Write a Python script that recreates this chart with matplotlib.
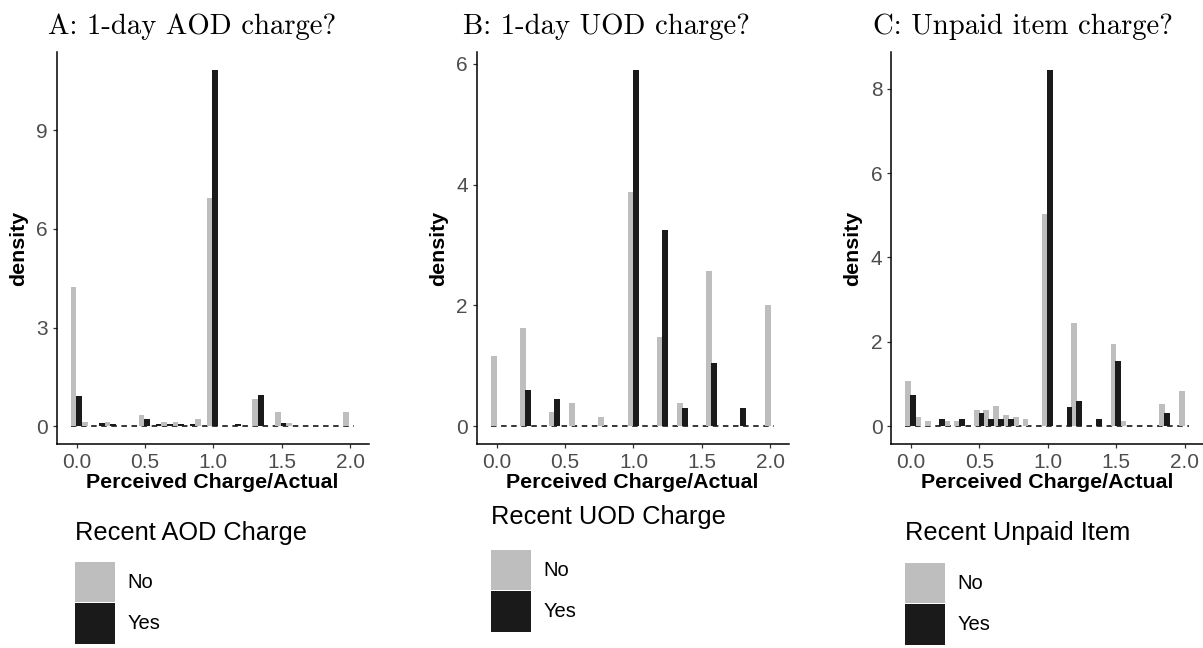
import numpy as np
import matplotlib
matplotlib.use('Agg')
import matplotlib.pyplot as plt
from matplotlib.patches import Patch

plt.rcParams['font.family'] = ['Liberation Sans', 'DejaVu Sans']

# ---- data (density per bin) ----
x_lo, x_hi = -0.043, 2.03          # outer edges of the binned range

aod_no  = [4.23, 0.12, 0, 0.12, 0, 0, 0.33, 0, 0.12, 0.12, 0, 0.22, 6.93,
           0, 0, 0, 0.84, 0, 0.42, 0.1, 0, 0, 0, 0, 0.42]
aod_yes = [0.92, 0, 0.1, 0.07, 0, 0, 0.22, 0.07, 0.07, 0.07, 0.07, 0, 10.84,
           0, 0.07, 0, 0.95, 0, 0.1, 0, 0, 0, 0, 0, 0]

uod_no  = [1.16, 0, 0, 1.63, 0, 0, 0.24, 0, 0.39, 0, 0, 0.16, 0, 0, 3.87,
           0, 0, 1.47, 0, 0.39, 0, 0, 2.57, 0, 0, 0, 0, 0, 2.01]
uod_yes = [0, 0, 0, 0.6, 0, 0, 0.45, 0, 0, 0, 0, 0, 0, 0, 5.9,
           0, 0, 3.25, 0, 0.30, 0, 0, 1.04, 0, 0, 0.30, 0, 0, 0]

unpaid_no  = [1.06, 0.21, 0.12, 0, 0.12, 0.12, 0, 0.39, 0.39, 0.47, 0.26, 0.21, 0.17, 0, 5.02,
              0, 0, 2.45, 0, 0, 0, 1.94, 0.12, 0, 0, 0, 0.53, 0, 0.84]
unpaid_yes = [0.73, 0, 0, 0.18, 0, 0.18, 0, 0.31, 0.18, 0.18, 0.18, 0, 0, 0, 8.45,
              0, 0.45, 0.59, 0, 0.18, 0, 1.55, 0, 0, 0, 0, 0.31, 0, 0]

titles = ['A: 1-day AOD charge?', 'B: 1-day UOD charge?', 'C: Unpaid item charge?']
legend_titles = ['Recent AOD Charge', 'Recent UOD Charge', 'Recent Unpaid Item']
group_labels = ['No', 'Yes']
x_ticks = [0.0, 0.5, 1.0, 1.5, 2.0]
y_ticks = [[0, 3, 6, 9], [0, 2, 4, 6], [0, 2, 4, 6, 8]]

panels = [(aod_no, aod_yes), (uod_no, uod_yes), (unpaid_no, unpaid_yes)]
bar_frac = [0.5, 0.62, 0.6]         # drawn bar width, as a share of the bin

col_no, col_yes = '#BEBEBE', '#1A1A1A'

W, H = 1203, 648
fig = plt.figure(figsize=(W / 100, H / 100), dpi=100)

lefts = [56.5, 476.6, 891]          # px
title_x = [48, 463, 873]
leg_x = [75, 491, 905]
leg_title_top = [521, 505, 521]     # px
leg_key_top = [562, 550, 563]

for i, (no, yes) in enumerate(panels):
    ax = fig.add_axes([lefts[i] / W, (H - 444) / H, 312 / W, 392 / H])
    n = len(no)
    bw = (x_hi - x_lo) / n
    left = x_lo + bw * np.arange(n)

    ax.hlines(0, x_lo, x_hi, colors='black', lw=1.1, linestyles=(0, (3.6, 3.0)), zorder=1)
    ax.bar(left, no, width=bw * bar_frac[i], align='edge', color=col_no, zorder=2)
    ax.bar(left + bw / 2, yes, width=bw * bar_frac[i], align='edge', color=col_yes, zorder=3)

    top = max(max(no), max(yes))
    span = x_hi - x_lo
    ax.set_xlim(x_lo - 0.05 * span, x_hi + 0.05 * span)
    ax.set_ylim(-0.05 * top, 1.05 * top)
    ax.set_xticks(x_ticks)
    ax.set_xticklabels(['%.1f' % t for t in x_ticks])
    ax.set_yticks(y_ticks[i])

    for s in ['top', 'right']:
        ax.spines[s].set_visible(False)
    for s in ['left', 'bottom']:
        ax.spines[s].set_linewidth(1.1)
    ax.tick_params(length=3.2, width=0.9, color='#333333', labelcolor='#4D4D4D',
                   labelsize=15, pad=3)

    ax.set_xlabel('Perceived Charge/Actual', fontsize=15.4, fontweight='bold', labelpad=1)
    ax.set_ylabel('density', fontsize=15.4, fontweight='bold', labelpad=6)

    fig.text(title_x[i] / W, 1 - 34 / H, titles[i], family=['cmr10', 'DejaVu Serif'],
             fontsize=20.7, va='baseline', ha='left')

    # legend
    fig.text(leg_x[i] / W, 1 - leg_title_top[i] / H, legend_titles[i], fontsize=18.3,
             va='top', ha='left')
    handles = [Patch(facecolor=col_no, edgecolor='none'),
               Patch(facecolor=col_yes, edgecolor='none')]
    fig.legend(handles, group_labels, loc='upper left',
               bbox_to_anchor=(leg_x[i] / W, 1 - leg_key_top[i] / H),
               frameon=False, fontsize=14.5, handlelength=2.0, handleheight=2.7,
               handletextpad=0.6, labelspacing=0.05, borderpad=0, borderaxespad=0)

fig.savefig('out.png', dpi=100)
